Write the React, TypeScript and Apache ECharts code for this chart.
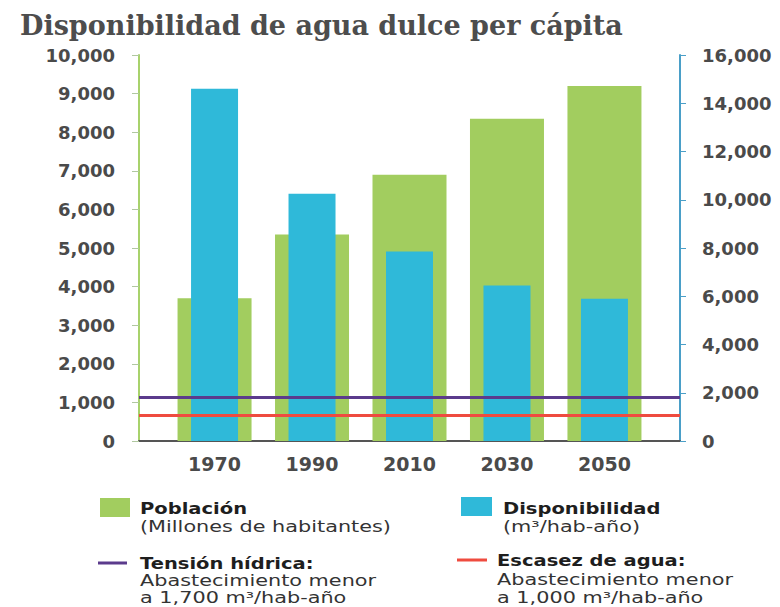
import React, { useEffect, useRef } from "react";
import * as echarts from "echarts";

const titleText = "Disponibilidad de agua dulce per cápita";
const years = [1970, 1990, 2010, 2030, 2050];
const poblacion = [3700, 5350, 6900, 8350, 9200];
const disponibilidad = [14600, 10250, 7850, 6450, 5900];
const tensionHidrica = 1800;
const escasezAgua = 1050;
const leftAxis = { min: 0, max: 10000, interval: 1000 };
const rightAxis = { min: 0, max: 16000, interval: 2000 };
const xRange = { min: 1954.5, max: 2065.5 };

const legendPoblacion = ["Población", "(Millones de habitantes)"];
const legendDisp = ["Disponibilidad", "(m³/hab-año)"];
const legendTension = ["Tensión hídrica:", "Abastecimiento menor", "a 1,700 m³/hab-año"];
const legendEscasez = ["Escasez de agua:", "Abastecimiento menor", "a 1,000 m³/hab-año"];

const GREEN = "#a2cd5f";
const BLUE = "#2fb9d9";
const PURPLE = "#5b3b8c";
const RED = "#ef4b3f";
const LABEL = "#4a4a4a";
const SANS = "DejaVu Sans";

function fmt(v: number): string {
  const s = String(Math.round(v));
  return s.replace(/\B(?=(\d{3})+(?!\d))/g, ",");
}

export default function App() {
  const ref = useRef<HTMLDivElement>(null);
  useEffect(() => {
    document.body.style.margin = "0";
    const chart = echarts.init(ref.current!, undefined, { renderer: "svg" });
    const boldText = (x: number, y: number, text: string) => ({
      type: "text",
      x,
      y,
      scaleX: 1.22,
      style: { text, fill: "#1e1e1e", font: `bold 16px '${SANS}'`, textVerticalAlign: "middle" },
    });
    const regText = (x: number, y: number, text: string) => ({
      type: "text",
      x,
      y,
      scaleX: 1.3,
      style: { text, fill: "#333", font: `16px '${SANS}'`, textVerticalAlign: "middle" },
    });
    chart.setOption({
      animation: false,
      backgroundColor: "#ffffff",
      title: {
        text: titleText,
        left: 15,
        top: 7,
        textStyle: { fontFamily: "DejaVu Serif", fontWeight: "bold", fontSize: 27, color: "#4d4d4d" },
      },
      grid: { left: 139, right: 100, top: 55, bottom: 166 },
      xAxis: [
        {
          type: "value",
          min: xRange.min,
          max: xRange.max,
          splitLine: { show: false },
          axisTick: { show: false },
          axisLine: { show: true, lineStyle: { color: "#555", width: 2 } },
          axisLabel: {
            customValues: years,
            formatter: (v: number) => String(v),
            fontFamily: SANS,
            fontWeight: "bold",
            fontSize: 19,
            color: LABEL,
            margin: 13,
          },
        },
        { type: "value", min: xRange.min, max: xRange.max, show: false, splitLine: { show: false } },
      ],
      yAxis: [
        {
          type: "value",
          position: "left",
          ...leftAxis,
          splitLine: { show: false },
          axisLine: { show: true, lineStyle: { color: "#a8d26c", width: 2 } },
          axisTick: { show: true, length: 7, lineStyle: { color: "#b0c8a0" } },
          axisLabel: {
            formatter: (v: number) => fmt(v),
            fontFamily: SANS,
            fontWeight: "bold",
            fontSize: 18,
            color: LABEL,
            margin: 24,
          },
        },
        {
          type: "value",
          position: "right",
          ...rightAxis,
          splitLine: { show: false },
          axisLine: { show: true, lineStyle: { color: "#4a9fc8", width: 2 } },
          axisTick: { show: true, length: 6, lineStyle: { color: "#4a9fc8" } },
          axisLabel: {
            formatter: (v: number) => fmt(v),
            fontFamily: SANS,
            fontWeight: "bold",
            fontSize: 18,
            color: LABEL,
            margin: 22,
          },
        },
      ],
      series: [
        {
          name: "Población",
          type: "bar",
          xAxisIndex: 0,
          yAxisIndex: 0,
          barWidth: 74,
          itemStyle: { color: GREEN },
          data: years.map((y, i) => [y, poblacion[i]]),
        },
        {
          name: "Disponibilidad",
          type: "bar",
          xAxisIndex: 1,
          yAxisIndex: 1,
          barWidth: 47,
          itemStyle: { color: BLUE },
          data: years.map((y, i) => [y, disponibilidad[i]]),
          markLine: {
            silent: true,
            symbol: "none",
            label: { show: false },
            data: [
              { yAxis: tensionHidrica, lineStyle: { color: PURPLE, width: 3, type: "solid" } },
              { yAxis: escasezAgua, lineStyle: { color: RED, width: 3, type: "solid" } },
            ],
          },
        },
      ],
      graphic: [
        { type: "rect", shape: { x: 100, y: 498, width: 30, height: 19 }, style: { fill: GREEN } },
        boldText(140, 508, legendPoblacion[0]),
        regText(140, 526, legendPoblacion[1]),
        { type: "rect", shape: { x: 461, y: 497, width: 31, height: 19 }, style: { fill: BLUE } },
        boldText(503, 508, legendDisp[0]),
        regText(503, 526, legendDisp[1]),
        { type: "line", shape: { x1: 98, y1: 563, x2: 127, y2: 563 }, style: { stroke: PURPLE, lineWidth: 3 } },
        boldText(140, 563, legendTension[0]),
        regText(140, 580, legendTension[1]),
        regText(140, 597, legendTension[2]),
        { type: "line", shape: { x1: 457, y1: 560, x2: 487, y2: 560 }, style: { stroke: RED, lineWidth: 3 } },
        boldText(497, 560, legendEscasez[0]),
        regText(497, 579, legendEscasez[1]),
        regText(497, 597, legendEscasez[2]),
      ],
    });
    return () => chart.dispose();
  }, []);
  return <div ref={ref} style={{ width: 780, height: 607 }} />;
}
